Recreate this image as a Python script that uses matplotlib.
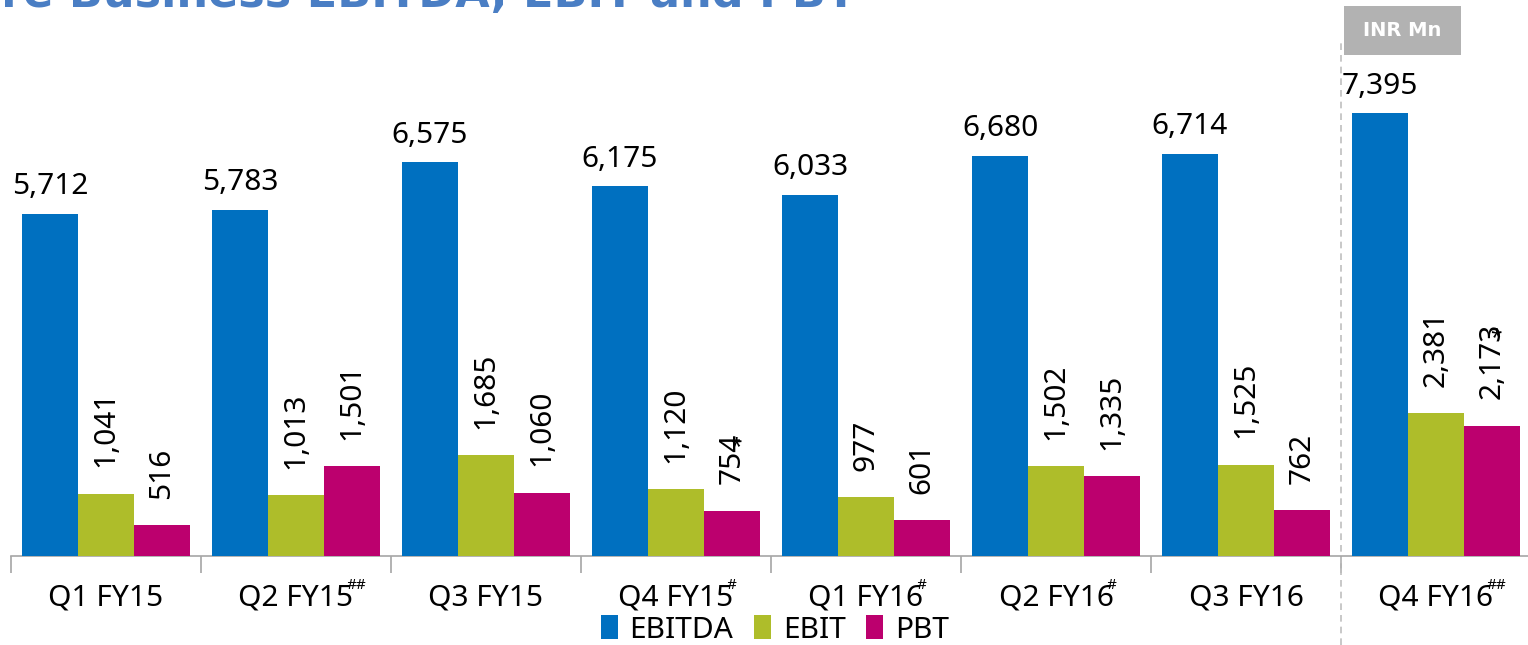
import matplotlib
matplotlib.use("Agg")
import matplotlib.pyplot as plt
import matplotlib.transforms as mtransforms
from matplotlib.patches import Rectangle, Patch
from matplotlib.lines import Line2D
import numpy as np

plt.rcParams['font.family'] = ['Noto Sans', 'DejaVu Sans']

categories = ["Q1 FY15", "Q2 FY15", "Q3 FY15", "Q4 FY15", "Q1 FY16", "Q2 FY16", "Q3 FY16", "Q4 FY16"]
cat_marks = ["", "##", "", "#", "#", "#", "", "##"]
ebitda = [5712, 5783, 6575, 6175, 6033, 6680, 6714, 7395]
ebit = [1041, 1013, 1685, 1120, 977, 1502, 1525, 2381]
pbt = [516, 1501, 1060, 754, 601, 1335, 762, 2173]
pbt_marks = ["", "", "", "*", "", "", "", "*"]
series_names = ["EBITDA", "EBIT", "PBT"]
colors = ["#0070C0", "#AEBD2A", "#BC006E"]
title = "Core Business EBITDA, EBIT and PBT"
unit = "INR Mn"

W, H = 1528, 645
fig = plt.figure(figsize=(W / 100, H / 100), dpi=100)
ax = fig.add_axes([11 / W, (H - 556) / H, 1520 / W, 539 / H])
ax.set_xlim(-0.5, len(categories) - 0.5)
ax.set_ylim(0, 9000)

x = np.arange(len(categories))
bw = 56 / 190
ax.bar(x - bw, ebitda, bw, color=colors[0], zorder=3)
ax.bar(x, ebit, bw, color=colors[1], zorder=3)
ax.bar(x + bw, pbt, bw, color=colors[2], zorder=3)

lab_fs = 21.5
for xi, v in zip(x - bw, ebitda):
    ax.annotate(f"{v:,}", xy=(xi, v), xytext=(0, 14), textcoords="offset points",
                ha="center", va="baseline", fontsize=lab_fs, color="black")
for xi, v in zip(x, ebit):
    ax.annotate(f"{v:,}", xy=(xi, v), xytext=(0, 19), textcoords="offset points",
                ha="center", va="bottom", rotation=90, fontsize=lab_fs, color="black")
pbt_texts = []
for xi, v in zip(x + bw, pbt):
    t = ax.annotate(f"{v:,}", xy=(xi, v), xytext=(0, 19), textcoords="offset points",
                    ha="center", va="bottom", rotation=90, fontsize=lab_fs, color="black")
    pbt_texts.append(t)

# axes styling
for s in ["top", "right", "left"]:
    ax.spines[s].set_visible(False)
ax.spines["bottom"].set_color("#A6A6A6")
ax.spines["bottom"].set_linewidth(1.2)
ax.set_yticks([])
ax.set_xticks(x)
ax.set_xticklabels(categories, fontsize=lab_fs)
ax.tick_params(axis="x", which="major", length=0, pad=20)
ax.set_xticks(np.arange(-0.5, len(categories)), minor=True)
ax.tick_params(axis="x", which="minor", length=12, color="#A6A6A6", width=1.2)

# dashed separator
trans = mtransforms.blended_transform_factory(ax.transData, fig.transFigure)
ax.add_line(Line2D([6.5, 6.5], [0, 1 - 40 / H], transform=trans, color="#BFBFBF",
                   linestyle=(0, (4, 3)), linewidth=1.2, clip_on=False))

# unit box
fig.patches.append(Rectangle((1344 / W, 1 - 55 / H), 117 / W, 49 / H,
                             transform=fig.transFigure, facecolor="#B2B2B2", edgecolor="none"))
fig.text(1402 / W, 1 - 30 / H, unit, ha="center", va="center", color="white",
         fontsize=14, fontweight="bold", family="DejaVu Sans")

# title (cut at top as in reference)
fig.text(856 / W, 1 - 7 / H, title, ha="right", va="baseline", color="#4A7EC4",
         fontsize=32, fontweight="bold", family="DejaVu Sans")

# legend
handles = [Patch(facecolor=c, edgecolor="none") for c in colors]
fig.legend(handles, series_names, loc="center", bbox_to_anchor=(775 / W, 1 - 630 / H),
           ncol=3, frameon=False, fontsize=lab_fs, handlelength=0.55, handleheight=0.85,
           handletextpad=0.4, columnspacing=0.7, borderpad=0)

# superscript marks
fig.canvas.draw()
renderer = fig.canvas.get_renderer()
for lbl, mk in zip(ax.get_xticklabels(), cat_marks):
    if mk:
        bb = lbl.get_window_extent(renderer)
        fig.text((bb.x1 - 7) / W, (bb.y1 - 2) / H, mk, ha="left", va="center",
                 fontsize=11, color="black")
for t, mk in zip(pbt_texts, pbt_marks):
    if mk:
        bb = t.get_window_extent(renderer)
        fig.text((bb.x0 + bb.width * 0.65) / W, (bb.y1 - 14) / H, mk, ha="center",
                 va="center", fontsize=15, color="black")

fig.savefig("out.png", dpi=100)
